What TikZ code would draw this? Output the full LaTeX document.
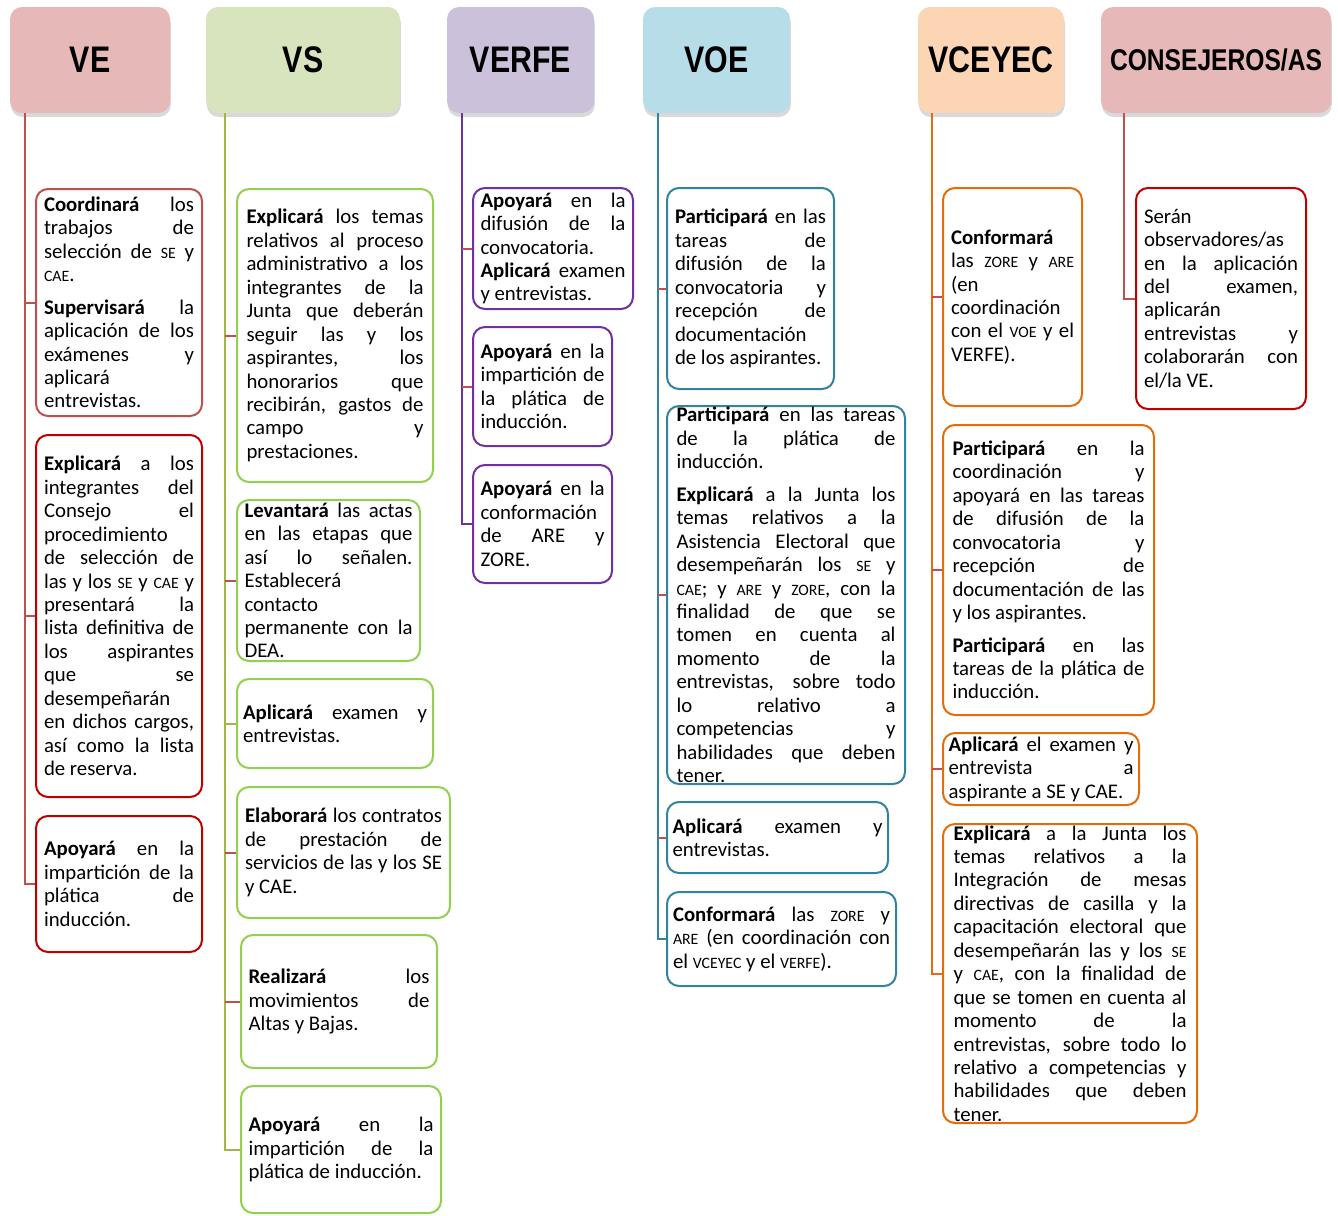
\documentclass[tikz,border=0pt]{standalone}
\usepackage{fontspec}
\setmainfont{Carlito}
\newfontfamily\headfont[FakeStretch=0.82]{Liberation Sans}
\usepackage{tikz}
\usetikzlibrary{calc}
\usetikzlibrary{shapes.geometric, arrows, positioning, shadows}

\definecolor{pinkFill}{HTML}{E6B8B7}
\definecolor{greenFill}{HTML}{D7E4BD}
\definecolor{lilacFill}{HTML}{CCC1DA}
\definecolor{blueFill}{HTML}{B7DEE8}
\definecolor{peachFill}{HTML}{FCD5B5}
\definecolor{softRed}{HTML}{C0504D}
\definecolor{darkRed}{HTML}{C00000}
\definecolor{leafGreen}{HTML}{92D050}
\definecolor{oliveLine}{HTML}{A4B545}
\definecolor{purpleLine}{HTML}{7030A0}
\definecolor{tealLine}{HTML}{31849B}
\definecolor{orangeLine}{HTML}{E46C0A}

\newcommand{\ab}[1]{{\fontsize{7.9}{8}\selectfont #1}}
\newcommand{\nl}{\linebreak}

\tikzstyle{head} = [rectangle, rounded corners=6pt, minimum height=53pt, text centered, font=\headfont\bfseries\fontsize{18.5}{20}\selectfont, drop shadow={shadow xshift=0.4pt, shadow yshift=-2pt, opacity=0.3}]
\tikzstyle{box} = [rectangle, rounded corners=6pt, line width=1pt]
\tikzstyle{txt} = [inner sep=0pt, align=justify, font=\fontsize{10.4}{11.72}\selectfont, execute at begin node={\setlength{\parindent}{0pt}\setlength{\parskip}{4.5pt}\hyphenpenalty=10000 \tolerance=10000 \hbadness=10000 \hfuzz=3pt}]
\tikzstyle{trunk} = [line width=1pt]
\tikzstyle{link} = [line width=1pt, softRed]

\begin{document}
\begin{tikzpicture}[x=0.5pt, y=-0.5pt]

    \useasboundingbox (0,0) rectangle (1338,1215);

    % Headers
    \node (ve) [head, fill=pinkFill, minimum width=80pt] at (90,60) {VE};
    \node (vs) [head, fill=greenFill, minimum width=97pt] at (303,60) {VS};
    \node (verfe) [head, fill=lilacFill, minimum width=73.5pt] at (520.5,60) {VERFE};
    \node (voe) [head, fill=blueFill, minimum width=73.5pt] at (716.5,60) {VOE};
    \node (vceyec) [head, fill=peachFill, minimum width=73pt] at (991,60) {VCEYEC};
    \node (cons) [head, fill=pinkFill, minimum width=115pt, font=\headfont\bfseries\fontsize{15}{17}\selectfont] at (1216,60) {CONSEJEROS/AS};

    \coordinate (veT) at ([xshift=7.5pt]ve.south west);
    \coordinate (vsT) at ([xshift=9.5pt]vs.south west);
    \coordinate (verfeT) at ([xshift=7.5pt]verfe.south west);
    \coordinate (voeT) at ([xshift=7.5pt]voe.south west);
    \coordinate (vceyecT) at ([xshift=7pt]vceyec.south west);
    \coordinate (consT) at ([xshift=11.5pt]cons.south west);

    % VE column
    \node (ve1) [box, draw=softRed, minimum width=83pt, minimum height=113.5pt] at (119,302.5) {};
    \node (ve1t) [txt, text width=75pt] at (ve1) {\textbf{Coordinará} los\nl trabajos de\nl selección de \ab{SE} y\nl \ab{CAE}.\par \textbf{Supervisará} la\nl aplicación de los\nl exámenes y\nl aplicará\nl entrevistas.};
    \node (ve2) [box, draw=darkRed, minimum width=83pt, minimum height=181pt] at (119,616) {};
    \node (ve2t) [txt, text width=75pt] at (ve2) {\textbf{Explicará} a los\nl integrantes del\nl Consejo el\nl procedimiento\nl de selección de\nl las y los \ab{SE} y \ab{CAE} y\nl presentará la\nl lista definitiva de\nl los aspirantes\nl que se\nl desempeñarán\nl en dichos cargos,\nl así como la lista\nl de reserva.};
    \node (ve3) [box, draw=darkRed, minimum width=83pt, minimum height=68pt] at (119,884) {};
    \node (ve3t) [txt, text width=75pt] at (ve3) {\textbf{Apoyará} en la\nl impartición de la\nl plática de\nl inducción.};

    % VS column
    \node (vs1) [box, draw=leafGreen, minimum width=98pt, minimum height=146.5pt] at (335,335.5) {};
    \node (vs1t) [txt, text width=88.5pt] at (vs1) {\textbf{Explicará} los temas\nl relativos al proceso\nl administrativo a los\nl integrantes de la\nl Junta que deberán\nl seguir las y los\nl aspirantes, los\nl honorarios que\nl recibirán, gastos de\nl campo y\nl prestaciones.};
    \node (vs2) [box, draw=leafGreen, minimum width=91.5pt, minimum height=80.5pt] at (328.5,580.5) {};
    \node (vs2t) [txt, text width=84pt] at (vs2) {\textbf{Levantará} las actas\nl en las etapas que\nl así lo señalen.\nl Establecerá\nl contacto\nl permanente con la\nl DEA.};
    \node (vs3) [box, draw=leafGreen, minimum width=98pt, minimum height=44.5pt] at (335,723.5) {};
    \node (vs3t) [txt, text width=92pt] at (vs3) {\textbf{Aplicará} examen y\nl entrevistas.};
    \node (vs4) [box, draw=leafGreen, minimum width=106.5pt, minimum height=65.5pt] at (343.5,852.5) {};
    \node (vs4t) [txt, text width=98.5pt] at (vs4) {\textbf{Elaborará} los contratos\nl de prestación de\nl servicios de las y los SE\nl y CAE.};
    \node (vs5) [box, draw=leafGreen, minimum width=98pt, minimum height=66.5pt] at (339,1001.5) {};
    \node (vs5t) [txt, text width=90.5pt] at (vs5) {\textbf{Realizará} los\nl movimientos de\nl Altas y Bajas.};
    \node (vs6) [box, draw=leafGreen, minimum width=100pt, minimum height=63.5pt] at (341,1149.5) {};
    \node (vs6t) [txt, text width=92.5pt] at (vs6) {\textbf{Apoyará} en la\nl impartición de la\nl plática de inducción.};

    % VERFE column
    \node (verfe1) [box, draw=purpleLine, minimum width=80pt, minimum height=60.5pt] at (553,248.5) {};
    \node (verfe1t) [txt, text width=72.5pt] at (verfe1) {\textbf{Apoyará} en la\nl difusión de la\nl convocatoria.\nl \textbf{Aplicará} examen\nl y entrevistas.};
    \node (verfe2) [box, draw=purpleLine, minimum width=69.5pt, minimum height=59.5pt] at (542.5,386.5) {};
    \node (verfe2t) [txt, text width=62pt] at (verfe2) {\textbf{Apoyará} en la\nl impartición de\nl la plática de\nl inducción.};
    \node (verfe3) [box, draw=purpleLine, minimum width=69.5pt, minimum height=59pt] at (542.5,524) {};
    \node (verfe3t) [txt, text width=62pt] at (verfe3) {\textbf{Apoyará} en la\nl conformación\nl de ARE y\nl ZORE.};

    % VOE column
    \node (voe1) [box, draw=tealLine, minimum width=83.5pt, minimum height=100.5pt] at (750.5,288.5) {};
    \node (voe1t) [txt, text width=75.5pt] at (voe1) {\textbf{Participará} en las\nl tareas de\nl difusión de la\nl convocatoria y\nl recepción de\nl documentación\nl de los aspirantes.};
    \node (voe2) [box, draw=tealLine, minimum width=119pt, minimum height=189pt] at (786,595) {};
    \node (voe2t) [txt, text width=109.5pt] at (voe2) {\textbf{Participará} en las tareas\nl de la plática de\nl inducción.\par \textbf{Explicará} a la Junta los\nl temas relativos a la\nl Asistencia Electoral que\nl desempeñarán los \ab{SE} y\nl \ab{CAE}; y \ab{ARE} y \ab{ZORE}, con la\nl finalidad de que se\nl tomen en cuenta al\nl momento de la\nl entrevistas, sobre todo\nl lo relativo a\nl competencias y\nl habilidades que deben\nl tener.};
    \node (voe3) [box, draw=tealLine, minimum width=110.5pt, minimum height=35.5pt] at (777.5,837.5) {};
    \node (voe3t) [txt, text width=105pt] at (voe3) {\textbf{Aplicará} examen y\nl entrevistas.};
    \node (voe4) [box, draw=tealLine, minimum width=114.5pt, minimum height=47pt] at (781.5,939) {};
    \node (voe4t) [txt, text width=108.5pt] at (voe4) {\textbf{Conformará} las \ab{ZORE} y\nl \ab{ARE} (en coordinación con\nl el \ab{VCEYEC} y el \ab{VERFE}).};

    % VCEYEC column
    \node (vceyec1) [box, draw=orangeLine, minimum width=69.5pt, minimum height=109pt] at (1012.5,297) {};
    \node (vceyec1t) [txt, text width=61.5pt] at (vceyec1) {\textbf{Conformará}\nl las \ab{ZORE} y \ab{ARE}\nl (en\nl coordinación\nl con el \ab{VOE} y el\nl VERFE).};
    \node (vceyec2) [box, draw=orangeLine, minimum width=105.5pt, minimum height=145pt] at (1048.5,570) {};
    \node (vceyec2t) [txt, text width=96pt] at (vceyec2) {\textbf{Participará} en la\nl coordinación y\nl apoyará en las tareas\nl de difusión de la\nl convocatoria y\nl recepción de\nl documentación de las\nl y los aspirantes.\par \textbf{Participará} en las\nl tareas de la plática de\nl inducción.};
    \node (vceyec3) [box, draw=orangeLine, minimum width=98pt, minimum height=36pt] at (1041,769) {};
    \node (vceyec3t) [txt, text width=92.5pt] at (vceyec3) {\textbf{Aplicará} el examen y\nl entrevista a\nl aspirante a SE y CAE.};
    \node (vceyec4) [box, draw=orangeLine, minimum width=127pt, minimum height=149.5pt] at (1070,973.5) {};
    \node (vceyec4t) [txt, text width=116.5pt] at (vceyec4) {\textbf{Explicará} a la Junta los\nl temas relativos a la\nl Integración de mesas\nl directivas de casilla y la\nl capacitación electoral que\nl desempeñarán las y los \ab{SE}\nl y \ab{CAE}, con la finalidad de\nl que se tomen en cuenta al\nl momento de la\nl entrevistas, sobre todo lo\nl relativo a competencias y\nl habilidades que deben\nl tener.};

    % Consejeros column
    \node (cons1) [box, draw=darkRed, minimum width=85pt, minimum height=110.5pt] at (1221,298.5) {};
    \node (cons1t) [txt, text width=77pt] at (cons1) {Serán\nl observadores/as\nl en la aplicación\nl del examen,\nl aplicarán\nl entrevistas y\nl colaborarán con\nl el/la VE.};

    % Trunks
    \draw [trunk, softRed] (veT) |- (ve3.west);
    \draw [trunk, oliveLine] (vsT) |- (vs6.west);
    \draw [trunk, purpleLine] (verfeT) |- (verfe3.west);
    \draw [trunk, tealLine] (voeT) |- (voe4.west);
    \draw [trunk, orangeLine] (vceyecT) |- (vceyec4.west);
    \draw [trunk, softRed] (consT) |- (cons1.west);

    % Branches
    \foreach \b in {ve1, ve2} \draw [link] (\b.west) -- (\b.west -| veT);
    \foreach \b in {vs1, vs2, vs4, vs5} \draw [link] (\b.west) -- (\b.west -| vsT);
    \draw [link, oliveLine] (vs3.west) -- (vs3.west -| vsT);
    \foreach \b in {verfe1, verfe2} \draw [link] (\b.west) -- (\b.west -| verfeT);
    \foreach \b in {voe1, voe2, voe3} \draw [link] (\b.west) -- (\b.west -| voeT);
    \foreach \b in {vceyec1, vceyec2, vceyec3} \draw [link] (\b.west) -- (\b.west -| vceyecT);

\end{tikzpicture}
\end{document}
